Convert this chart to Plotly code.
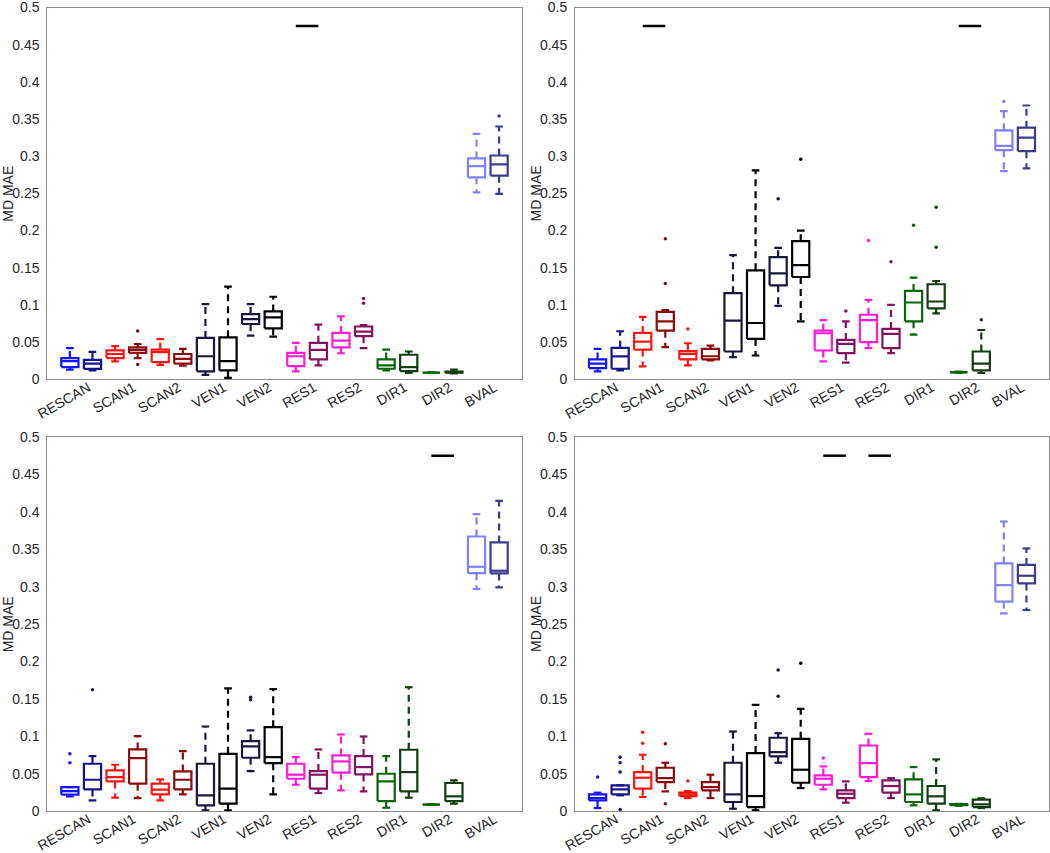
import plotly.graph_objects as go

CATEGORIES = ["RESCAN", "SCAN1", "SCAN2", "VEN1", "VEN2", "RES1", "RES2", "DIR1", "DIR2", "BVAL"]
Y_TICKS = [0, 0.05, 0.1, 0.15, 0.2, 0.25, 0.3, 0.35, 0.4, 0.45, 0.5]
Y_TICK_LABELS = ["0", "0.05", "0.1", "0.15", "0.2", "0.25", "0.3", "0.35", "0.4", "0.45", "0.5"]
Y_TITLE = "MD MAE"
SIG_LEVEL = 0.475

# ---- Panel 1 (top left) ----
P1_LO = [0.013, 0.012, 0.024, 0.0285, 0.0195, 0.0185, 0.006, 0.002, 0.0588, 0.0574,
         0.0107, 0.0187, 0.035, 0.042, 0.012, 0.0085, 0.0085, 0.008, 0.2515, 0.2493]
P1_Q1 = [0.0165, 0.014, 0.0285, 0.0355, 0.023, 0.021, 0.0107, 0.012, 0.0744, 0.0686,
         0.0178, 0.0267, 0.043, 0.058, 0.0142, 0.011, 0.0088, 0.0088, 0.2716, 0.2738]
P1_MED = [0.0245, 0.021, 0.034, 0.0395, 0.0365, 0.0275, 0.031, 0.0245, 0.081, 0.0833,
          0.031, 0.0396, 0.052, 0.064, 0.0187, 0.0165, 0.009, 0.0095, 0.2867, 0.289]
P1_Q3 = [0.0285, 0.026, 0.039, 0.043, 0.040, 0.034, 0.0557, 0.0565, 0.0877, 0.0913,
         0.0356, 0.049, 0.0623, 0.071, 0.0267, 0.033, 0.0092, 0.0105, 0.297, 0.301]
P1_HI = [0.042, 0.037, 0.0445, 0.0475, 0.054, 0.041, 0.101, 0.1247, 0.101, 0.111,
         0.049, 0.0735, 0.0846, 0.073, 0.040, 0.0374, 0.0095, 0.013, 0.330, 0.340]
P1_OUT = [[], [], [], [0.065, 0.020], [], [], [], [], [], [],
          [], [], [], [0.1086, 0.1024], [], [], [], [], [], [0.354]]
P1_SIG = [(11, 12)]

# ---- Panel 2 (top right) ----
P2_LO = [0.0107, 0.012, 0.0174, 0.0432, 0.0187, 0.0254, 0.0298, 0.032, 0.0988, 0.078,
         0.024, 0.0223, 0.0419, 0.0352, 0.060, 0.0886, 0.009, 0.0085, 0.280, 0.2836]
P2_Q1 = [0.0151, 0.0142, 0.040, 0.0654, 0.0267, 0.0267, 0.0374, 0.0543, 0.1264, 0.1376,
         0.0387, 0.0352, 0.0499, 0.0419, 0.078, 0.0953, 0.0093, 0.012, 0.3081, 0.3068]
P2_MED = [0.021, 0.0307, 0.0508, 0.078, 0.0343, 0.031, 0.0788, 0.0757, 0.1425, 0.1536,
          0.0619, 0.0476, 0.0797, 0.061, 0.1033, 0.1046, 0.0097, 0.021, 0.3139, 0.325]
P2_Q3 = [0.0267, 0.0423, 0.0623, 0.0908, 0.038, 0.041, 0.1158, 0.1465, 0.1643, 0.1857,
         0.0654, 0.053, 0.0868, 0.0677, 0.1189, 0.1278, 0.0101, 0.0374, 0.3348, 0.3384]
P2_HI = [0.041, 0.0646, 0.084, 0.093, 0.0485, 0.0454, 0.167, 0.281, 0.1768, 0.200,
         0.0797, 0.078, 0.1069, 0.100, 0.1367, 0.1322, 0.0105, 0.0663, 0.3606, 0.3682]
P2_OUT = [[], [], [], [0.189, 0.129], [0.0677], [], [], [], [0.2427], [0.296],
          [], [0.092], [0.1866], [0.158], [0.207], [0.2315, 0.1777], [], [0.080], [0.3735], []]
P2_SIG = [(3, 4), (17, 18)]

# ---- Panel 3 (bottom left) ----
P3_LO = [0.0196, 0.0142, 0.0178, 0.0173, 0.0142, 0.0222, 0.001, 0.001, 0.0534, 0.0222,
         0.0351, 0.024, 0.0276, 0.0262, 0.0044, 0.0178, 0.0082, 0.0098, 0.2967, 0.299]
P3_Q1 = [0.0218, 0.0289, 0.0396, 0.0365, 0.0222, 0.0289, 0.0076, 0.0098, 0.0712, 0.064,
         0.0431, 0.0298, 0.0512, 0.0489, 0.0133, 0.0262, 0.0084, 0.0133, 0.318, 0.3176]
P3_MED = [0.0267, 0.0418, 0.0454, 0.0707, 0.0285, 0.0418, 0.0209, 0.0298, 0.0863, 0.072,
          0.0485, 0.0485, 0.0663, 0.0587, 0.0396, 0.052, 0.0086, 0.0196, 0.3265, 0.3212]
P3_Q3 = [0.032, 0.0632, 0.0543, 0.0823, 0.0365, 0.0529, 0.0632, 0.0765, 0.0934, 0.1121,
         0.0632, 0.0534, 0.0743, 0.0734, 0.0498, 0.0819, 0.0088, 0.0374, 0.367, 0.359]
P3_HI = [0.032, 0.0734, 0.0618, 0.100, 0.0423, 0.080, 0.113, 0.164, 0.1077, 0.163,
         0.072, 0.0823, 0.1023, 0.0996, 0.0734, 0.1655, 0.009, 0.041, 0.3968, 0.4146]
P3_OUT = [[0.0765, 0.0645], [0.162], [], [], [], [], [], [], [0.152, 0.1486], [],
          [], [], [], [], [], [], [], [], [], []]
P3_SIG = [(17, 18)]

# ---- Panel 4 (bottom right) ----
P4_LO = [0.004, 0.021, 0.0187, 0.0262, 0.0173, 0.0173, 0.003, 0.001, 0.0645, 0.0307,
         0.0289, 0.0111, 0.040, 0.0173, 0.0076, 0.001, 0.007, 0.004, 0.2642, 0.2687]
P4_Q1 = [0.0142, 0.0222, 0.0298, 0.0387, 0.020, 0.0276, 0.012, 0.0053, 0.073, 0.0378,
         0.0351, 0.0173, 0.0454, 0.0245, 0.012, 0.0098, 0.0078, 0.0053, 0.280, 0.3043]
P4_MED = [0.0173, 0.0289, 0.0445, 0.044, 0.023, 0.032, 0.0222, 0.020, 0.0787, 0.0552,
          0.0431, 0.0231, 0.064, 0.0334, 0.0222, 0.0196, 0.0085, 0.0089, 0.302, 0.3145]
P4_Q3 = [0.0222, 0.0343, 0.052, 0.0578, 0.0245, 0.0387, 0.0645, 0.0774, 0.0979, 0.0965,
         0.0476, 0.0276, 0.0876, 0.041, 0.0423, 0.0334, 0.0092, 0.0151, 0.331, 0.329]
P4_HI = [0.0245, 0.0343, 0.0752, 0.0645, 0.0267, 0.0485, 0.1063, 0.1419, 0.104, 0.1366,
         0.0596, 0.0396, 0.1032, 0.044, 0.0587, 0.069, 0.0095, 0.017, 0.387, 0.351]
P4_OUT = [[0.0454], [0.072, 0.0645, 0.052, 0.002], [0.1054, 0.0907], [0.0899, 0.0098], [0.040], [], [], [],
          [0.1886, 0.1535], [0.1975], [0.0707], [], [], [], [], [], [], [], [], []]
P4_SIG = [(11, 12), (13, 14)]

# ---- styles ----
BOX_COLORS = ["#1414ff", "#14148c", "#ff1414", "#8b0a0a", "#ff1414", "#8b0a0a",
              "#16163f", "#000000", "#16163f", "#000000",
              "#ff1ad4", "#82125e", "#ff1ad4", "#82125e",
              "#0a640a", "#123c12", "#0a640a", "#123c12",
              "#8080ff", "#3c3c8c"]
FONT = "Liberation Sans, Arial, Helvetica, sans-serif"
AXIS_COLOR = "#8c8c8c"
TEXT_COLOR = "#262626"
HALF_BOX = 0.38
HALF_CAP = 0.17
LINE_W = 2.2

PANELS = [
    (P1_LO, P1_Q1, P1_MED, P1_Q3, P1_HI, P1_OUT, P1_SIG),
    (P2_LO, P2_Q1, P2_MED, P2_Q3, P2_HI, P2_OUT, P2_SIG),
    (P3_LO, P3_Q1, P3_MED, P3_Q3, P3_HI, P3_OUT, P3_SIG),
    (P4_LO, P4_Q1, P4_MED, P4_Q3, P4_HI, P4_OUT, P4_SIG),
]

W, H = 1050, 853
X_DOMAINS = [(47.3 / W, 521.7 / W), (575.0 / W, 1049.0 / W)]
Y_DOMAINS = [(1 - 379.3 / H, 1 - 7.5 / H), (1 - 811.0 / H, 1 - 437.0 / H)]

fig = go.Figure()

for k, (lo, q1, med, q3, hi, out, sig) in enumerate(PANELS):
    xa = "x" if k == 0 else f"x{k + 1}"
    ya = "y" if k == 0 else f"y{k + 1}"
    for i in range(len(q1)):
        p = i + 1
        c = BOX_COLORS[i]
        # box outline + median + caps (solid)
        fig.add_trace(go.Scatter(
            x=[p - HALF_BOX, p + HALF_BOX, p + HALF_BOX, p - HALF_BOX, p - HALF_BOX, None,
               p - HALF_BOX, p + HALF_BOX, None,
               p - HALF_CAP, p + HALF_CAP, None,
               p - HALF_CAP, p + HALF_CAP],
            y=[q1[i], q1[i], q3[i], q3[i], q1[i], None,
               med[i], med[i], None,
               hi[i], hi[i], None,
               lo[i], lo[i]],
            mode="lines", line=dict(color=c, width=LINE_W), xaxis=xa, yaxis=ya,
            hoverinfo="skip", showlegend=False))
        # whiskers (dashed)
        fig.add_trace(go.Scatter(
            x=[p, p, None, p, p],
            y=[q3[i], hi[i], None, q1[i], lo[i]],
            mode="lines", line=dict(color=c, width=LINE_W, dash="7px,5px"),
            xaxis=xa, yaxis=ya, hoverinfo="skip", showlegend=False))
        if out[i]:
            fig.add_trace(go.Scatter(
                x=[p] * len(out[i]), y=out[i], mode="markers",
                marker=dict(color=c, size=3.5, symbol="circle"),
                xaxis=xa, yaxis=ya, hoverinfo="skip", showlegend=False))
    for a, b in sig:
        fig.add_trace(go.Scatter(
            x=[a, b], y=[SIG_LEVEL, SIG_LEVEL], mode="lines",
            line=dict(color="black", width=2.5), xaxis=xa, yaxis=ya,
            hoverinfo="skip", showlegend=False))

tick_pos = [2 * j + 1.5 for j in range(len(CATEGORIES))]
layout = dict(
    width=W, height=H, margin=dict(l=0, r=0, t=0, b=0, autoexpand=False),
    paper_bgcolor="white", plot_bgcolor="white", showlegend=False,
    font=dict(family=FONT, size=14, color=TEXT_COLOR),
)
annotations = []
for k in range(4):
    col, row = k % 2, k // 2
    xname = "xaxis" if k == 0 else f"xaxis{k + 1}"
    yname = "yaxis" if k == 0 else f"yaxis{k + 1}"
    xid = "x" if k == 0 else f"x{k + 1}"
    yid = "y" if k == 0 else f"y{k + 1}"
    layout[xname] = dict(
        domain=list(X_DOMAINS[col]), anchor=yid, range=[0, 21], automargin=False,
        tickvals=tick_pos, ticktext=CATEGORIES, tickangle=-30, ticks="",
        ticklabelshift=7, ticklabelstandoff=-6, ticklabeloverflow="allow",
        showgrid=False, zeroline=False, showline=True, mirror=True,
        linecolor=AXIS_COLOR, linewidth=1, tickfont=dict(size=14, color=TEXT_COLOR))
    layout[yname] = dict(
        domain=list(Y_DOMAINS[row]), anchor=xid, range=[0, 0.5], automargin=False,
        tickvals=Y_TICKS, ticktext=Y_TICK_LABELS, ticks="", ticklabelstandoff=4,
        ticklabeloverflow="allow",
        showgrid=False, zeroline=False, showline=True, mirror=True,
        linecolor=AXIS_COLOR, linewidth=1, tickfont=dict(size=14, color=TEXT_COLOR))
    annotations.append(dict(
        text=Y_TITLE, textangle=-90, xref="paper", yref="paper",
        x=X_DOMAINS[col][0] - 39.0 / W, y=sum(Y_DOMAINS[row]) / 2,
        xanchor="center", yanchor="middle", showarrow=False,
        font=dict(size=14, color=TEXT_COLOR, family=FONT)))
layout["annotations"] = annotations
fig.update_layout(**layout)

fig.write_html("out.html", config={"displayModeBar": False},
               post_script="document.body.style.margin='0';document.body.style.overflow='hidden';")
